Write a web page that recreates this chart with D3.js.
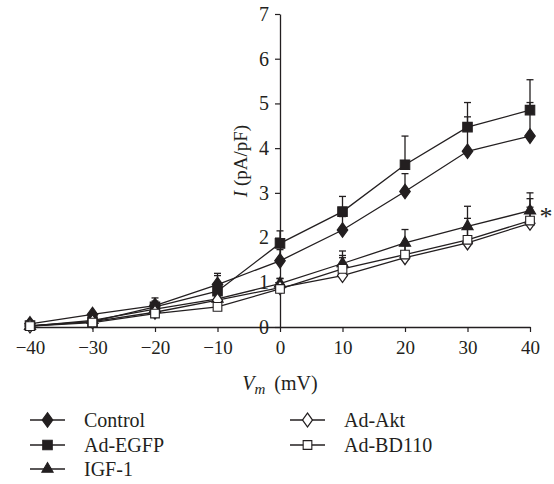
<!DOCTYPE html>
<html><head><meta charset="utf-8">
<script src="https://cdn.jsdelivr.net/npm/d3@7"></script>
<style>body{margin:0;background:#fff}svg{display:block}svg text{font-family:"Liberation Serif","DejaVu Serif",serif !important;fill:#231f20}</style>
</head><body><div id="chart"></div>
<script>
const voltages = [-40, -30, -20, -10, 0, 10, 20, 30, 40];
const seriesNames = ["Control", "Ad-EGFP", "IGF-1", "Ad-Akt", "Ad-BD110"];
const controlVals = [0.07, 0.28, 0.48, 0.95, 1.48, 2.17, 3.03, 3.93, 4.27];
const egfpVals    = [0.03, 0.12, 0.45, 0.80, 1.87, 2.58, 3.63, 4.47, 4.85];
const igfVals     = [0.02, 0.15, 0.40, 0.63, 0.97, 1.42, 1.88, 2.25, 2.60];
const aktVals     = [0.02, 0.12, 0.33, 0.60, 0.88, 1.15, 1.55, 1.88, 2.32];
const bd110Vals   = [0.02, 0.10, 0.30, 0.45, 0.85, 1.30, 1.62, 1.95, 2.38];
const controlErr  = [0.02, 0.05, 0.10, 0.20, 0.25, 0.30, 0.40, 0.77, 0.75];
const egfpErr     = [0.02, 0.05, 0.20, 0.40, 0.28, 0.34, 0.64, 0.55, 0.68];
const igfErr      = [0.02, 0.05, 0.08, 0.10, 0.12, 0.28, 0.30, 0.45, 0.40];
const aktErr      = [0.02, 0.04, 0.06, 0.10, 0.20, 0.45, 0.30, 0.55, 0.55];
const bd110Err    = [0.02, 0.04, 0.06, 0.08, 0.15, 0.25, 0.20, 0.30, 0.30];
const yTicks = [0, 1, 2, 3, 4, 5, 6, 7];
const xTicks = [-40, -30, -20, -10, 0, 10, 20, 30, 40];

const W = 554, H = 484;
const FONT = '"Liberation Serif","DejaVu Serif",serif';
const svg = d3.select("#chart").append("svg").attr("width", W).attr("height", H);
const x = d3.scaleLinear().domain([-40, 40]).range([30, 530]);
const y = d3.scaleLinear().domain([0, 7]).range([327, 14]);
const ink = "#231f20";

const series = [
  {name: seriesNames[0], vals: controlVals, err: controlErr, shape: d3.symbolDiamond, fill: ink, size: 60},
  {name: seriesNames[1], vals: egfpVals, err: egfpErr, shape: d3.symbolSquare, fill: ink, size: 90},
  {name: seriesNames[2], vals: igfVals, err: igfErr, shape: d3.symbolTriangle, fill: ink, size: 55},
  {name: seriesNames[3], vals: aktVals, err: aktErr, shape: d3.symbolDiamond, fill: "#fff", size: 55},
  {name: seriesNames[4], vals: bd110Vals, err: bd110Err, shape: d3.symbolSquare, fill: "#fff", size: 75}
];

// axes
const xAxis = svg.append("g").attr("transform", `translate(0,${y(0)})`)
  .call(d3.axisBottom(x).tickValues(xTicks).tickSize(5).tickSizeOuter(0).tickFormat(d => d < 0 ? "\u2212" + Math.abs(d) : String(d)));
xAxis.attr("font-family", FONT);
xAxis.select(".domain").attr("stroke", ink).attr("stroke-width", 1.3);
xAxis.selectAll(".tick line").attr("stroke", ink).attr("stroke-width", 1.2);
xAxis.selectAll(".tick text").attr("font-size", 19).attr("dy", "1.0em").attr("fill", ink);

const yAxis = svg.append("g").attr("transform", `translate(${x(0)},0)`)
  .call(d3.axisLeft(y).tickValues(yTicks).tickSize(5).tickSizeOuter(0).tickPadding(6).tickFormat(d3.format("d")));
yAxis.attr("font-family", FONT);
yAxis.select(".domain").attr("stroke", ink).attr("stroke-width", 1.3);
yAxis.selectAll(".tick line").attr("stroke", ink).attr("stroke-width", 1.2);
yAxis.selectAll(".tick text").attr("font-size", 20).attr("fill", ink);

// axis titles
const yl = svg.append("text").attr("transform", `translate(247,161) rotate(-90)`)
  .attr("text-anchor", "middle").attr("font-size", 19).attr("font-family", FONT);
yl.append("tspan").attr("font-style", "italic").text("I");
yl.append("tspan").text(" (pA/pF)");

const xl = svg.append("text").attr("x", x(0)).attr("y", 390).attr("text-anchor", "middle").attr("font-size", 20).attr("font-family", FONT);
xl.append("tspan").attr("font-style", "italic").text("V");
xl.append("tspan").attr("font-style", "italic").attr("font-size", 15).attr("dy", 4).text("m");
xl.append("tspan").attr("dy", -4).text("\u2009 (mV)");

// lines
const line = d3.line().x((d, i) => x(voltages[i])).y(d => y(d));
series.forEach(s => {
  svg.append("path").datum(s.vals).attr("d", line).attr("fill", "none").attr("stroke", ink).attr("stroke-width", 1.3);
});
// error bars
series.forEach(s => {
  const g = svg.append("g").attr("stroke", ink).attr("stroke-width", 1.3);
  s.vals.forEach((v, i) => {
    const cx = x(voltages[i]);
    g.append("line").attr("x1", cx).attr("x2", cx).attr("y1", y(v)).attr("y2", y(v + s.err[i]));
    g.append("line").attr("x1", cx - 3.5).attr("x2", cx + 3.5).attr("y1", y(v + s.err[i])).attr("y2", y(v + s.err[i]));
  });
});
// markers
function drawSymbol(g, s, cx, cy) {
  const sym = d3.symbol().type(s.shape).size(s.size);
  let tr = `translate(${cx},${cy})`;
  if (s.shape === d3.symbolDiamond) tr += " scale(1.25,1)";
  g.append("path").attr("d", sym()).attr("transform", tr)
    .attr("fill", s.fill).attr("stroke", ink).attr("stroke-width", 1.1);
}
series.forEach(s => {
  const g = svg.append("g");
  s.vals.forEach((v, i) => drawSymbol(g, s, x(voltages[i]), y(v)));
});

// significance mark
svg.append("text").attr("x", 546).attr("y", 225).attr("text-anchor", "middle").attr("font-size", 26).attr("font-family", FONT).text("*");

// legend
const legendPos = [[30, 420], [30, 445], [30, 469], [290, 420], [290, 445]];
series.forEach((s, i) => {
  const [lx, ly] = legendPos[i];
  const g = svg.append("g");
  g.append("line").attr("x1", lx).attr("x2", lx + 35).attr("y1", ly).attr("y2", ly).attr("stroke", ink).attr("stroke-width", 1.3);
  drawSymbol(g, s, lx + 17.5, ly);
  g.append("text").attr("x", lx + 54).attr("y", ly + 7).attr("font-size", 20).attr("font-family", FONT).text(s.name);
});
</script></body></html>
